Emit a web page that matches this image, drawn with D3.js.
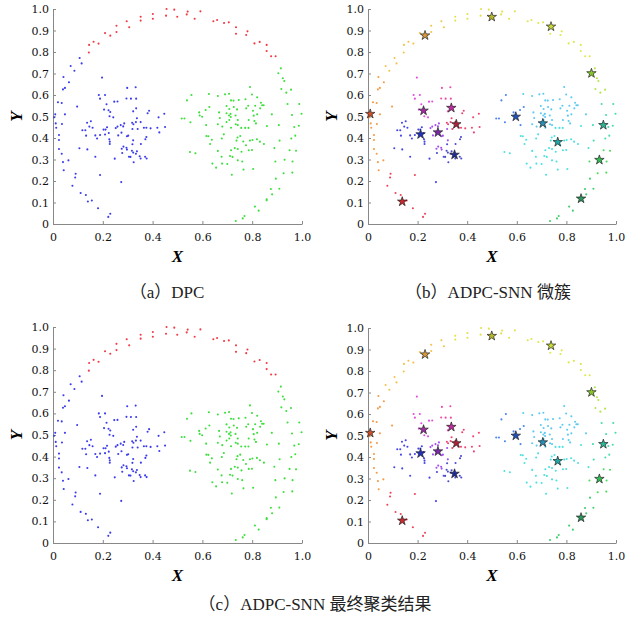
<!DOCTYPE html>
<html>
<head>
<meta charset="utf-8">
<script src="https://cdn.jsdelivr.net/npm/d3@7"></script>
<style>
  body { margin: 0; background: #fff; }
</style>
</head>
<body>
<div id="chart"></div>
<script>
// point sets, one per micro-cluster (x, y in [0,1])
var ringLeft = [[0.042,0.684],[0.064,0.659],[0.048,0.633],[0.040,0.626],[0.020,0.566],[0.035,0.563],[0.097,0.546],[0.048,0.510],[0.009,0.510],[0.004,0.496],[0.011,0.468],[0.036,0.465],[0.013,0.448],[0.024,0.414],[0.024,0.391],[0.024,0.349],[0.035,0.327],[0.040,0.288],[0.062,0.296],[0.043,0.250]];
var ringLowLeft = [[0.091,0.234],[0.089,0.216],[0.078,0.178],[0.111,0.144],[0.132,0.135],[0.140,0.105],[0.156,0.109],[0.181,0.073],[0.230,0.048],[0.222,0.033],[0.189,0.228]];
var ringUpLeftBlue = [[0.107,0.772],[0.115,0.747],[0.071,0.735],[0.086,0.713]];
var ringUpLeft = [[0.144,0.798],[0.145,0.833],[0.163,0.848],[0.183,0.839],[0.209,0.888],[0.230,0.876],[0.255,0.922],[0.255,0.893],[0.296,0.943],[0.306,0.915]];
var ringTop = [[0.352,0.964],[0.352,0.946],[0.401,0.977],[0.401,0.955],[0.454,0.969],[0.456,1.0],[0.487,0.997],[0.499,0.964],[0.537,0.975],[0.541,0.988],[0.569,0.955],[0.592,0.989]];
var ringTopRight = [[0.644,0.943],[0.659,0.949],[0.687,0.935],[0.706,0.938],[0.735,0.915],[0.735,0.885],[0.781,0.896],[0.776,0.879],[0.809,0.840],[0.830,0.847],[0.858,0.833],[0.858,0.805],[0.876,0.780],[0.894,0.780]];
var ringRightUp = [[0.905,0.701],[0.915,0.724],[0.923,0.678],[0.929,0.665],[0.917,0.628],[0.937,0.611],[0.956,0.625]];
var ringRightMid = [[0.942,0.558],[0.989,0.558],[0.998,0.513],[0.960,0.507],[0.969,0.451],[0.987,0.457],[0.957,0.398],[0.973,0.411],[0.907,0.460],[0.910,0.388]];
var ringRightLow = [[0.950,0.343],[0.976,0.341],[0.930,0.299],[0.962,0.291],[0.926,0.236],[0.961,0.239],[0.893,0.291]];
var ringBottom = [[0.895,0.211],[0.875,0.163],[0.909,0.164],[0.880,0.138],[0.858,0.115],[0.858,0.110],[0.811,0.081],[0.826,0.062],[0.769,0.037],[0.762,0.026],[0.734,0.014]];
var blobMagenta = [[0.197,0.681],[0.184,0.600],[0.209,0.600],[0.189,0.583],[0.246,0.569],[0.259,0.570],[0.215,0.557],[0.205,0.532],[0.223,0.529],[0.230,0.521],[0.227,0.501],[0.242,0.496]];
var blobPink = [[0.298,0.633],[0.332,0.636],[0.295,0.584],[0.313,0.583],[0.334,0.583],[0.334,0.538],[0.322,0.524]];
var blobCrimson = [[0.386,0.527],[0.380,0.515],[0.447,0.513],[0.424,0.496],[0.337,0.492],[0.318,0.471],[0.323,0.464],[0.333,0.474],[0.352,0.474],[0.365,0.448],[0.375,0.448],[0.392,0.445],[0.419,0.448],[0.450,0.451],[0.427,0.426],[0.340,0.442]];
var blobPurple = [[0.272,0.460],[0.286,0.468],[0.282,0.454],[0.262,0.412],[0.275,0.425],[0.297,0.408],[0.302,0.411],[0.319,0.442],[0.283,0.360],[0.276,0.350],[0.295,0.355],[0.297,0.346],[0.322,0.389],[0.259,0.453],[0.252,0.446]];
var blobBlue = [[0.152,0.478],[0.137,0.471],[0.159,0.448],[0.146,0.453],[0.118,0.436],[0.130,0.436],[0.133,0.411],[0.170,0.412],[0.177,0.398],[0.189,0.414],[0.203,0.439],[0.211,0.439],[0.217,0.450],[0.209,0.416],[0.224,0.423],[0.226,0.394],[0.228,0.383],[0.228,0.372],[0.138,0.347],[0.106,0.352],[0.170,0.313],[0.248,0.304],[0.274,0.195]];
var blobNavy = [[0.375,0.405],[0.371,0.394],[0.319,0.371],[0.353,0.372],[0.317,0.341],[0.322,0.332],[0.337,0.338],[0.333,0.327],[0.278,0.330],[0.305,0.313],[0.311,0.312],[0.348,0.315],[0.370,0.313],[0.376,0.305],[0.324,0.287],[0.352,0.305]];
var rBlobBlue = [[0.517,0.491],[0.528,0.491],[0.538,0.575],[0.556,0.600],[0.552,0.473],[0.587,0.519],[0.589,0.505],[0.599,0.499],[0.613,0.530],[0.628,0.544],[0.615,0.460]];
var rBlobSky = [[0.626,0.605],[0.662,0.595],[0.667,0.519],[0.670,0.493],[0.662,0.464],[0.680,0.453],[0.691,0.603],[0.707,0.606],[0.715,0.575],[0.697,0.549],[0.708,0.535],[0.697,0.515],[0.707,0.505],[0.713,0.512],[0.714,0.498],[0.708,0.484],[0.697,0.474],[0.715,0.448],[0.734,0.464],[0.742,0.460],[0.742,0.484],[0.746,0.577],[0.725,0.574],[0.726,0.544],[0.739,0.533],[0.733,0.505],[0.773,0.580],[0.791,0.637],[0.799,0.602],[0.820,0.589],[0.784,0.550],[0.776,0.538],[0.803,0.527],[0.812,0.550],[0.835,0.564],[0.840,0.552],[0.846,0.552],[0.832,0.538],[0.806,0.504],[0.820,0.510],[0.809,0.479],[0.815,0.468],[0.786,0.484],[0.879,0.510]];
var rBlobCyan = [[0.550,0.335],[0.572,0.329],[0.616,0.409],[0.624,0.408],[0.638,0.392],[0.631,0.372],[0.686,0.417],[0.678,0.398],[0.662,0.340],[0.677,0.313],[0.640,0.281],[0.655,0.262],[0.679,0.281],[0.700,0.279],[0.785,0.447],[0.756,0.447],[0.772,0.447],[0.752,0.409],[0.741,0.402],[0.737,0.388],[0.764,0.384],[0.791,0.388],[0.801,0.391],[0.819,0.394],[0.831,0.383],[0.847,0.372],[0.730,0.353],[0.742,0.349],[0.715,0.343],[0.757,0.336],[0.786,0.343],[0.711,0.316],[0.721,0.312],[0.742,0.296],[0.760,0.291],[0.765,0.253],[0.804,0.256],[0.718,0.229],[0.775,0.366],[0.799,0.344],[0.859,0.456],[0.889,0.353]];

// micro-cluster centres (stars), same order as micro index
var centers = [[0.009,0.512],[0.138,0.104],[0.230,0.877],[0.499,0.963],[0.738,0.918],[0.901,0.701],[0.949,0.460],[0.933,0.298],[0.859,0.118],[0.224,0.527],[0.336,0.540],[0.356,0.464],[0.282,0.426],[0.212,0.417],[0.349,0.322],[0.596,0.499],[0.705,0.468],[0.765,0.381]];

// [points, micro index, final cluster index]  final: 0 top ring, 1 left, 2 right
var groups = [
  [ringLeft, 0, 1], [ringLowLeft, 1, 1], [ringUpLeftBlue, 2, 1], [ringUpLeft, 2, 0],
  [ringTop, 3, 0], [ringTopRight, 4, 0], [ringRightUp, 5, 2], [ringRightMid, 6, 2],
  [ringRightLow, 7, 2], [ringBottom, 8, 2], [blobMagenta, 9, 1], [blobPink, 10, 1],
  [blobCrimson, 11, 1], [blobPurple, 12, 1], [blobBlue, 13, 1], [blobNavy, 14, 1],
  [rBlobBlue, 15, 2], [rBlobSky, 16, 2], [rBlobCyan, 17, 2]
];

var xTicks = [0, 0.2, 0.4, 0.6, 0.8, 1.0];
var yTicks = [0, 0.1, 0.2, 0.3, 0.4, 0.5, 0.6, 0.7, 0.8, 0.9, 1.0];
var captions = ["（a）DPC", "（b）ADPC-SNN 微簇", "（c）ADPC-SNN 最终聚类结果"];

var finalColors = ["#f03a44", "#3c3cec", "#3ede3e"];
var microColors = ["#f59a45", "#ee4455", "#f3c24a", "#e4e04a", "#dde84c", "#b5e54a", "#45dcb0", "#4cdc5a", "#3fcf6e",
                   "#e04ee0", "#ec4aa8", "#ee4470", "#a24ef0", "#4545e6", "#4a4ad0", "#4a85f0", "#5ccaf2", "#4ee0e0"];
var starColors = ["#d0502a", "#c82a30", "#d89a38", "#b8b828", "#c8d838", "#88c828", "#28b898", "#30c050", "#28985a",
                  "#a02aa0", "#c02aa0", "#b02038", "#7a2aa8", "#2030c0", "#1f2a98", "#2050b8", "#2890b8", "#20a8a8"];

var W = 632, H = 622;
var svg = d3.select("#chart").append("svg")
    .attr("width", W)
    .attr("height", H);

var panels = [
  {left: 53, top: 9, w: 249, h: 215, micro: false},
  {left: 368, top: 9, w: 248, h: 215, micro: true},
  {left: 53, top: 327, w: 249, h: 216, micro: false},
  {left: 368, top: 328, w: 248, h: 215, micro: true}
];

var pts = [];
groups.forEach(function(gr) {
  gr[0].forEach(function(p) { pts.push({x: p[0], y: p[1], m: gr[1], f: gr[2]}); });
});

panels.forEach(function(p) {
  var g = svg.append("g").attr("transform", "translate(" + p.left + "," + p.top + ")");
  var x = d3.scaleLinear().domain([0, 1]).range([0, p.w]);
  var y = d3.scaleLinear().domain([0, 1]).range([p.h, 0]);

  var xa = g.append("g").attr("transform", "translate(0," + p.h + ")")
    .call(d3.axisBottom(x).tickValues(xTicks).tickSizeInner(-3).tickSizeOuter(0).tickPadding(9)
      .tickFormat(function(d) { return d === 0 ? "0" : d.toFixed(1); }));
  var ya = g.append("g")
    .call(d3.axisLeft(y).tickValues(yTicks).tickSizeInner(-3).tickSizeOuter(0).tickPadding(4)
      .tickFormat(function(d) { return d === 0 ? "0" : d.toFixed(1); }));
  [xa, ya].forEach(function(a) {
    a.select(".domain").attr("stroke", "#888");
    a.selectAll(".tick line").attr("stroke", "#888");
    a.selectAll("text").style("font-family", "'DejaVu Serif', serif").style("font-size", "11px").attr("fill", "#111");
  });

  g.selectAll(".pt")
    .data(pts)
    .enter().append("circle")
    .attr("class", "pt")
    .attr("cx", function(d) { return x(d.x); })
    .attr("cy", function(d) { return y(d.y); })
    .attr("r", 1.05)
    .attr("fill", function(d) { return p.micro ? microColors[d.m] : finalColors[d.f]; });

  if (p.micro) {
    g.selectAll(".star")
      .data(centers)
      .enter().append("path")
      .attr("class", "star")
      .attr("d", d3.symbol().type(d3.symbolStar).size(28))
      .attr("transform", function(d) { return "translate(" + x(d[0]) + "," + y(d[1]) + ")"; })
      .attr("fill", function(d, i) { return starColors[i]; })
      .attr("stroke", "#222")
      .attr("stroke-width", 0.7);
  }

  g.append("text")
    .attr("x", p.w / 2)
    .attr("y", p.h + 38)
    .attr("text-anchor", "middle")
    .style("font-family", "'Liberation Serif', serif")
    .style("font-size", "17px")
    .style("font-style", "italic")
    .style("font-weight", "bold")
    .text("X");
  g.append("text")
    .attr("transform", "translate(-31," + (p.h / 2) + ") rotate(-90)")
    .attr("text-anchor", "middle")
    .style("font-family", "'Liberation Serif', serif")
    .style("font-size", "17px")
    .style("font-style", "italic")
    .style("font-weight", "bold")
    .text("Y");
});

// captions
var capPos = [[167, 298], [488, 298], [315, 610]];
captions.forEach(function(c, i) {
  svg.append("text")
    .attr("x", capPos[i][0])
    .attr("y", capPos[i][1])
    .attr("text-anchor", "middle")
    .style("font-family", "'Liberation Serif', 'Noto Sans CJK SC', serif")
    .style("font-size", "17px")
    .attr("fill", "#222")
    .text(c);
});
</script>
</body>
</html>
